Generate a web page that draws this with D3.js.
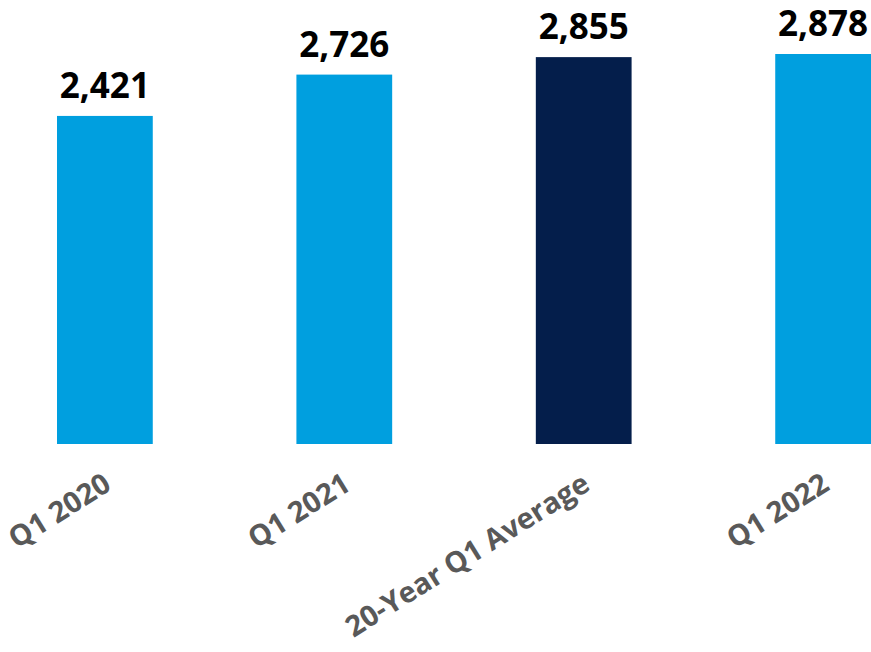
<!DOCTYPE html>
<html>
<head>
<meta charset="utf-8">
<script src="https://cdn.jsdelivr.net/npm/d3@7"></script>
<style>
  body { margin: 0; background: #fff; }
  text { font-family: "Open Sans", sans-serif; font-weight: bold; }
</style>
</head>
<body>
<div id="content"></div>
<script>
const width = 871;
const height = 652;

const categories = ["Q1 2020", "Q1 2021", "20-Year Q1 Average", "Q1 2022"];
const values = [2421, 2726, 2855, 2878];
const bar_colors = ["#009fdf", "#009fdf", "#041e4b", "#009fdf"];

var svg = d3
    .select("#content")
    .append("svg")
    .attr("width", width)
    .attr("height", height);

var x = d3.scaleBand()
    .domain(categories)
    .range([57, 871])
    .paddingInner(0.6)
    .paddingOuter(0);

var y = d3.scaleLinear()
    .domain([0, 2878])
    .range([444, 54]);

svg.selectAll("rect.bar")
    .data(categories)
    .enter()
    .append("rect")
    .attr("class", "bar")
    .attr("x", d => x(d))
    .attr("width", x.bandwidth())
    .attr("y", (d, i) => y(values[i]))
    .attr("height", (d, i) => y(0) - y(values[i]))
    .attr("fill", (d, i) => bar_colors[i]);

// value labels above bars
svg.selectAll("text.value")
    .data(categories)
    .enter()
    .append("text")
    .attr("class", "value")
    .attr("x", d => x(d) + x.bandwidth() / 2)
    .attr("y", (d, i) => y(values[i]) - 18)
    .attr("text-anchor", "middle")
    .style("font-size", "35px")
    .style("fill", "#000")
    .text((d, i) => d3.format(",")(values[i]));

// category axis, labels rotated
var xAxis = d3.axisBottom(x).tickSize(0).tickPadding(0);
var gx = svg.append("g")
    .attr("transform", "translate(0,444)")
    .call(xAxis);
gx.select(".domain").remove();
gx.selectAll("text")
    .attr("x", 0)
    .attr("y", 0)
    .attr("dy", 0)
    .attr("text-anchor", "end")
    .attr("transform", "translate(8,45) rotate(-32)")
    .style("font-family", "'Open Sans', sans-serif")
    .style("font-weight", "bold")
    .style("font-size", "29px")
    .style("fill", "#595959");
</script>
</body>
</html>
